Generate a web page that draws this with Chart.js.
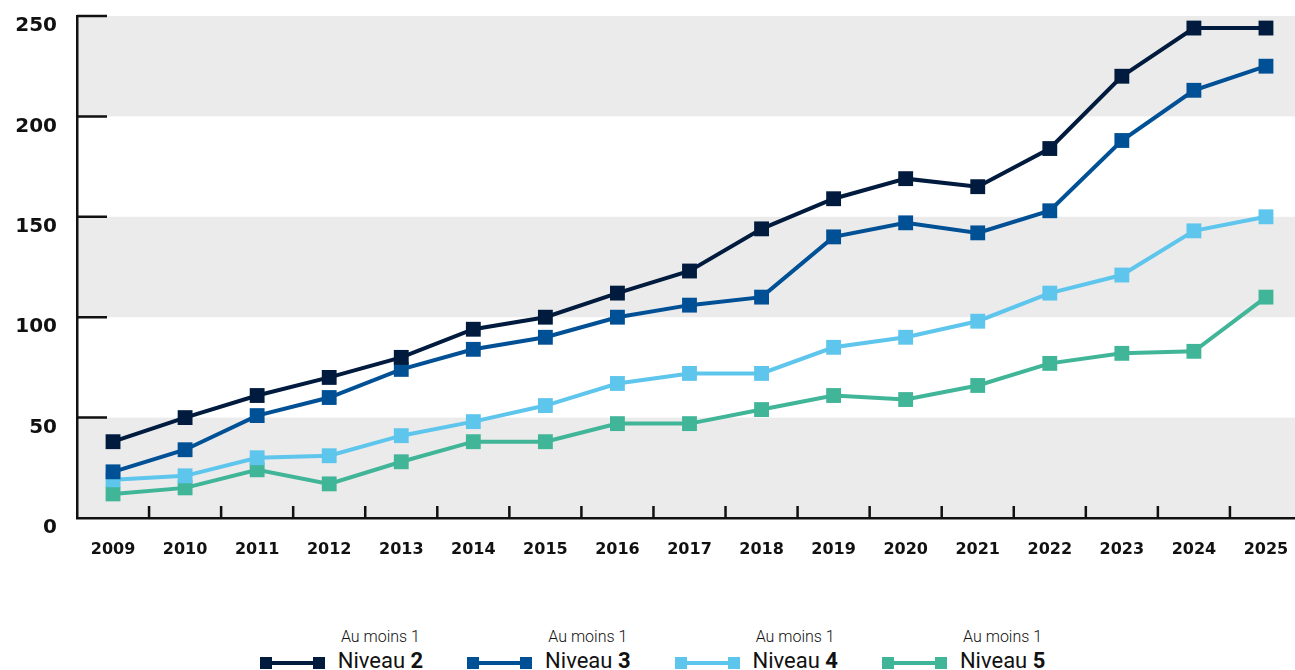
<!DOCTYPE html>
<html>
<head>
<meta charset="utf-8">
<script src="https://cdn.jsdelivr.net/npm/chart.js@4.4.1/dist/chart.umd.min.js"></script>
<style>
html, body { margin: 0; padding: 0; background: #fff; overflow: hidden; width: 1295px; height: 670px; }
#wrap { position: absolute; left: 0; top: 0; width: 1302px; height: 590px; }
#legend { position: absolute; left: 5px; top: 629px; width: 1295px; display: flex; justify-content: center; gap: 44px;
          font-family: Roboto, 'Liberation Sans', sans-serif; color: #111; }
.item { display: flex; align-items: flex-end; }
.swatch { position: relative; width: 65px; height: 12px; margin: 0 13px 3px 0; }
.swatch .bar { position: absolute; left: 0; right: 0; top: 4px; height: 4px; }
.swatch .sq { position: absolute; top: 0; width: 12px; height: 12px; }
.txt { display: flex; flex-direction: column; align-items: center; line-height: 1; }
.small { font-size: 16px; font-weight: 300; margin-bottom: 5px; }
.big { font-size: 22px; font-weight: 400; }
.big b { font-weight: 700; }
</style>
</head>
<body>
<div id="wrap"><canvas id="chart" width="1302" height="590"></canvas></div>
<div id="legend"></div>
<script>
// ========== DATA ==========
const years = ['2009', '2010', '2011', '2012', '2013', '2014', '2015', '2016', '2017',
               '2018', '2019', '2020', '2021', '2022', '2023', '2024', '2025'];

const niveau2 = [38, 50, 61, 70, 80, 94, 100, 112, 123, 144, 159, 169, 165, 184, 220, 244, 244];
const niveau3 = [23, 34, 51, 60, 74, 84, 90, 100, 106, 110, 140, 147, 142, 153, 188, 213, 225];
const niveau4 = [19, 21, 30, 31, 41, 48, 56, 67, 72, 72, 85, 90, 98, 112, 121, 143, 150];
const niveau5 = [12, 15, 24, 17, 28, 38, 38, 47, 47, 54, 61, 59, 66, 77, 82, 83, 110];

const levelNames = ['2', '3', '4', '5'];
const levelColors = ['#001b3d', '#005096', '#5ec5ec', '#40b598'];
const yTicks = [0, 50, 100, 150, 200, 250];

const INK = '#111111';

// ========== PLUGINS ==========
// alternating grey bands: 0-50, 100-150, 200-250
const bandPlugin = {
    id: 'bands',
    beforeDraw(chart) {
        const { ctx, chartArea, scales } = chart;
        ctx.save();
        ctx.fillStyle = '#ebebeb';
        for (let i = 0; i < yTicks.length - 1; i += 2) {
            const top = scales.y.getPixelForValue(yTicks[i + 1]);
            const bottom = scales.y.getPixelForValue(yTicks[i]);
            ctx.fillRect(chartArea.left, top, chartArea.right - chartArea.left, bottom - top);
        }
        ctx.restore();
    }
};

// tick marks pointing into the plot area
const innerTicks = {
    id: 'innerTicks',
    beforeDatasetsDraw(chart) {
        const { ctx, chartArea, scales } = chart;
        ctx.save();
        ctx.strokeStyle = INK;
        ctx.lineWidth = 2.5;
        ctx.beginPath();
        yTicks.slice(1).forEach(v => {
            const py = scales.y.getPixelForValue(v);
            ctx.moveTo(chartArea.left, py);
            ctx.lineTo(chartArea.left + 30, py);
        });
        for (let i = 1; i < years.length; i++) {
            const px = (scales.x.getPixelForValue(i - 1) + scales.x.getPixelForValue(i)) / 2;
            ctx.moveTo(px, chartArea.bottom);
            ctx.lineTo(px, chartArea.bottom - 12);
        }
        ctx.stroke();
        ctx.restore();
    }
};

// ========== CHART ==========
const series = [niveau2, niveau3, niveau4, niveau5];

const ctx = document.getElementById('chart').getContext('2d');
const chart = new Chart(ctx, {
    type: 'line',
    data: {
        labels: years,
        datasets: series.map((values, i) => ({
            label: 'Au moins 1 Niveau ' + levelNames[i],
            data: values,
            borderColor: levelColors[i],
            backgroundColor: levelColors[i],
            borderWidth: 4,
            tension: 0,
            pointStyle: 'rect',
            pointRadius: 10.5,
            pointHoverRadius: 10.5,
            pointBorderWidth: 0,
            clip: false
        }))
    },
    options: {
        responsive: false,
        animation: false,
        // canvas is a few px wider than the window; plot area runs past the edge
        layout: { autoPadding: false, padding: { top: 16, left: 0, right: 0, bottom: 0 } },
        plugins: {
            legend: { display: false },
            tooltip: { enabled: false }
        },
        scales: {
            x: {
                offset: true,
                grid: { display: false, drawTicks: false },
                border: { display: true, color: INK, width: 2.5 },
                ticks: {
                    color: INK,
                    font: { family: "'DejaVu Sans', sans-serif", size: 16, weight: 'bold' },
                    padding: 22,
                    maxRotation: 0,
                    autoSkip: false
                },
                afterFit: s => { s.height = 72; s.paddingLeft = 0; s.paddingRight = 0; }
            },
            y: {
                min: 0,
                max: 250,
                grid: { display: false, drawTicks: false },
                border: { display: true, color: INK, width: 2.5 },
                ticks: {
                    stepSize: 50,
                    color: INK,
                    font: { family: "'DejaVu Sans', sans-serif", size: 20, weight: 'bold' },
                    padding: 20,
                    labelOffset: 10
                },
                afterFit: s => { s.width = 77; s.paddingTop = 0; s.paddingBottom = 0; }
            }
        }
    },
    plugins: [bandPlugin, innerTicks]
});

// ========== HTML LEGEND ==========
const legend = document.getElementById('legend');
chart.data.datasets.forEach((ds, i) => {
    const item = document.createElement('div');
    item.className = 'item';
    item.innerHTML =
        '<div class="swatch">' +
            '<div class="bar" style="background:' + ds.borderColor + '"></div>' +
            '<div class="sq" style="left:0;background:' + ds.borderColor + '"></div>' +
            '<div class="sq" style="right:0;background:' + ds.borderColor + '"></div>' +
        '</div>' +
        '<div class="txt"><span class="small">Au moins 1</span>' +
        '<span class="big">Niveau <b>' + levelNames[i] + '</b></span></div>';
    legend.appendChild(item);
});
</script>
</body>
</html>
